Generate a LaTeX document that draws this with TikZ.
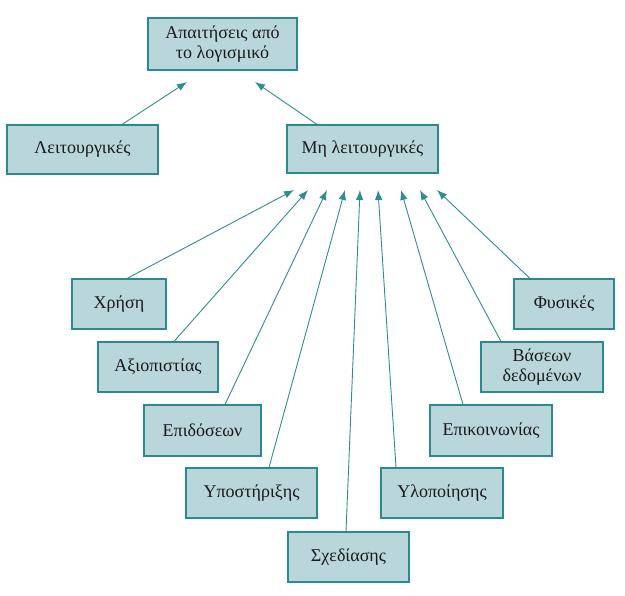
\documentclass[tikz,border=0pt]{standalone}
\usepackage{fontspec}
\setmainfont{Liberation Serif}
\usetikzlibrary{arrows.meta,calc}
\definecolor{boxfill}{HTML}{B9D6DA}
\definecolor{boxline}{HTML}{2A8A8E}
\definecolor{arrowc}{HTML}{2E8D91}
\definecolor{txt}{HTML}{1A1A1A}
\begin{document}
\begin{tikzpicture}[x=1pt,y=-1pt,
  box/.style={draw=boxline,fill=boxfill,line width=1.1pt,inner sep=0pt,align=center,
    text=txt,font=\fontsize{18}{20.5}\selectfont},
  conn/.style={draw=arrowc,line width=0.9pt,-{Latex[length=10pt,width=7.5pt]}}]
\useasboundingbox (0,0) rectangle (625,596);
\node[box,minimum width=149pt,minimum height=52pt] (top) at (222.5,44) {Απαιτήσεις από\\το λογισμικό};
\node[box,minimum width=151pt,minimum height=49pt] (leit) at (82.5,149.5) {Λειτουργικές};
\node[box,minimum width=151pt,minimum height=48pt] (mh) at (362.5,149) {Μη λειτουργικές};
\node[box,minimum width=94pt,minimum height=50pt] (xrisi) at (119,304) {Χρήση};
\node[box,minimum width=120pt,minimum height=50pt] (axio) at (158,367) {Αξιοπιστίας};
\node[box,minimum width=117pt,minimum height=51pt] (epid) at (202.5,430.5) {Επιδόσεων};
\node[box,minimum width=131pt,minimum height=50pt] (ypost) at (251.5,493) {Υποστήριξης};
\node[box,minimum width=121pt,minimum height=50pt] (sxed) at (348.5,557) {Σχεδίασης};
\node[box,minimum width=122pt,minimum height=50pt] (ylop) at (442,493) {Υλοποίησης};
\node[box,minimum width=122pt,minimum height=51pt] (epik) at (491,430.5) {Επικοινωνίας};
\node[box,minimum width=122pt,minimum height=50pt] (vas) at (542,367) {Βάσεων\\δεδομένων};
\node[box,minimum width=100pt,minimum height=50pt] (fys) at (564,304) {Φυσικές};
% arrow tips (free ends)
\coordinate (tL) at (187,82);
\coordinate (tR) at (255,82);
\coordinate (t1) at (294,190);
\coordinate (t2) at (308,190);
\coordinate (t3) at (327,190);
\coordinate (t4) at (345,190);
\coordinate (t5) at (360,190);
\coordinate (t6) at (378,190);
\coordinate (t7) at (401,190);
\coordinate (t8) at (420,190);
\coordinate (t9) at (437,190);
\draw[conn] ([xshift=39.5pt]leit.north) -- (tL);
\draw[conn] ([xshift=-45.5pt]mh.north) -- (tR);
\draw[conn] ([xshift=8pt]xrisi.north) -- (t1);
\draw[conn] ([xshift=16pt]axio.north) -- (t2);
\draw[conn] ([xshift=22.5pt]epid.north) -- (t3);
\draw[conn] ([xshift=17.5pt]ypost.north) -- (t4);
\draw[conn] ([xshift=-2.5pt]sxed.north) -- (t5);
\draw[conn] ([xshift=-46pt]ylop.north) -- (t6);
\draw[conn] ([xshift=-28pt]epik.north) -- (t7);
\draw[conn] ([xshift=-41pt]vas.north) -- (t8);
\draw[conn] ([xshift=-34pt]fys.north) -- (t9);
\end{tikzpicture}
\end{document}
